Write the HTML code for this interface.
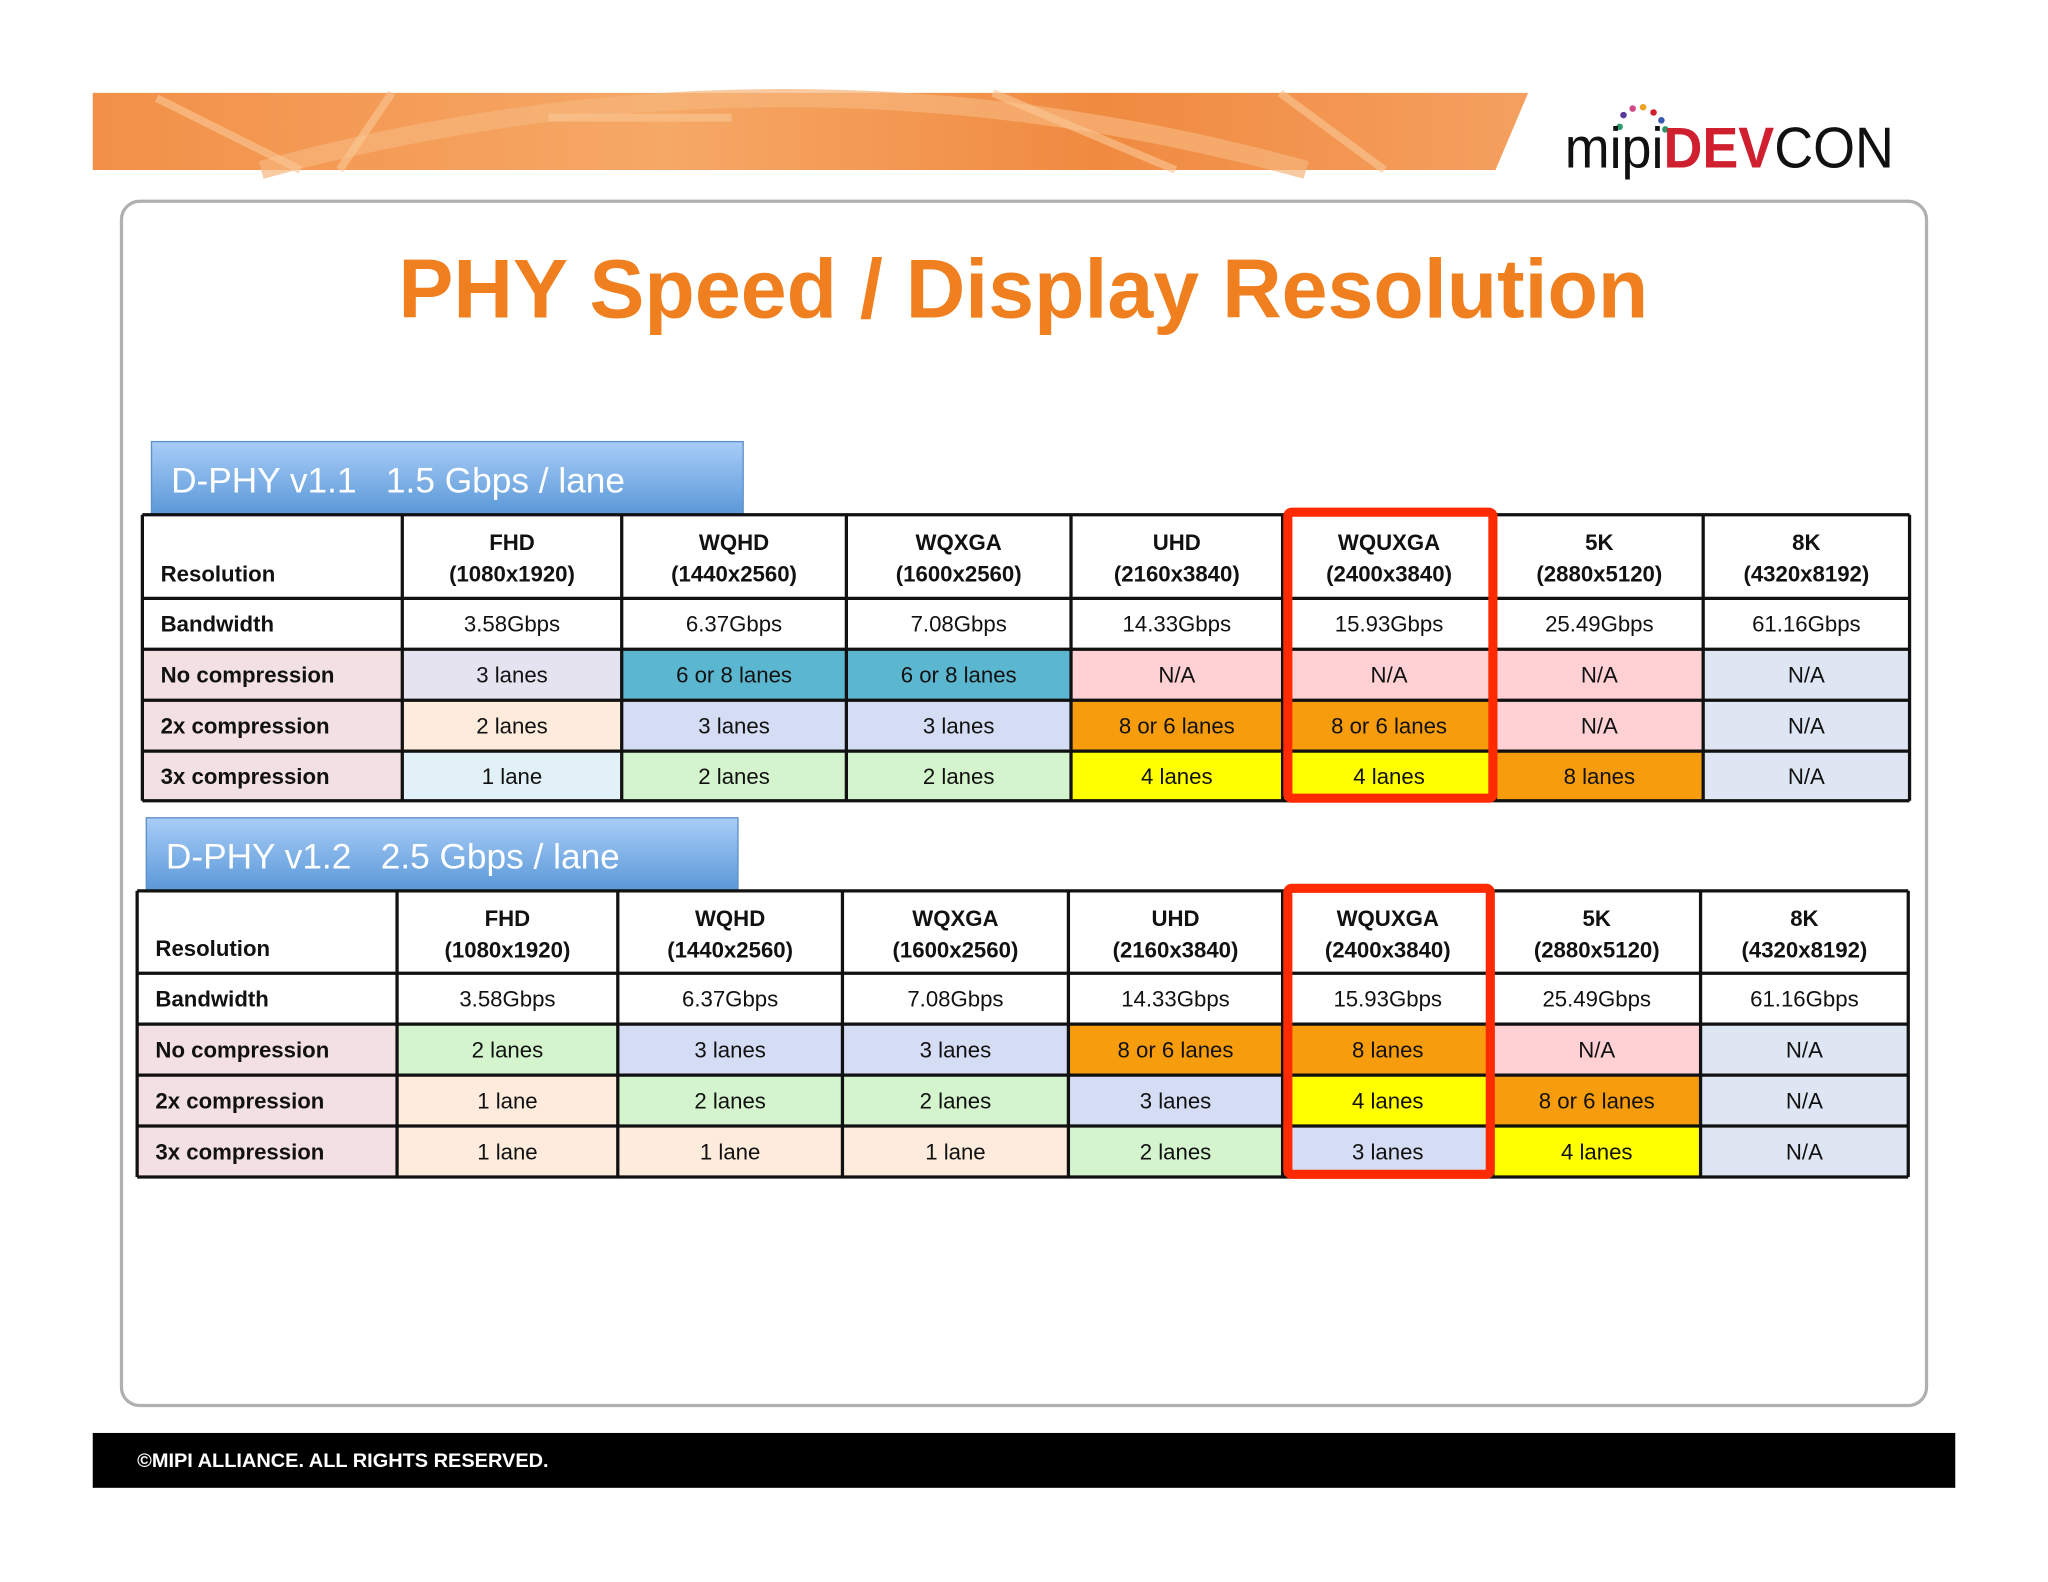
<!DOCTYPE html>
<html><head><meta charset="utf-8"><style>
html,body{margin:0;padding:0;background:#fff;width:2048px;height:1582px;overflow:hidden}
svg{display:block}
text{font-family:"Liberation Sans",sans-serif}
</style></head><body>
<svg id="root" width="2048" height="1582" viewBox="0 0 1568 1211" xmlns="http://www.w3.org/2000/svg">
<defs>
<linearGradient id="ban" x1="0" y1="0" x2="1" y2="0">
<stop offset="0" stop-color="#f29048"/><stop offset="0.4" stop-color="#f6a866"/><stop offset="0.7" stop-color="#f08a40"/><stop offset="1" stop-color="#f5a060"/></linearGradient>
<linearGradient id="hdr" x1="0" y1="0" x2="0" y2="1">
<stop offset="0" stop-color="#a9cdf7"/><stop offset="1" stop-color="#5a98d8"/></linearGradient>
</defs>
<g>
<polygon points="71,71 1170,71 1145,130 71,130" fill="url(#ban)"/>
<path d="M200,130 Q600,20 1000,130" stroke="#f7b57a" stroke-width="14" fill="none" opacity="0.7"/>
<path d="M120,75 L230,130 M300,71 L260,130 M760,71 L900,130 M980,71 L1060,130 M420,90 L560,90" stroke="#fbc896" stroke-width="6" opacity="0.6"/>
</g>
<g>
<circle cx="1240" cy="97" r="2.5" fill="#2a9a6a"/><circle cx="1243" cy="88" r="2.5" fill="#5a3a9a"/><circle cx="1250" cy="83" r="2.5" fill="#d04a8a"/><circle cx="1258" cy="82" r="2.5" fill="#f0a020"/><circle cx="1266" cy="86" r="2.5" fill="#d02030"/><circle cx="1272" cy="92" r="2.5" fill="#3a5ab0"/><circle cx="1275" cy="99" r="2.5" fill="#2a9a6a"/>
<text x="1198" y="128" font-size="44" fill="#111" textLength="252" lengthAdjust="spacingAndGlyphs">mipi<tspan fill="#d0202f" font-weight="bold">DEV</tspan>CON</text>
</g>
<rect x="93" y="154" width="1382" height="922" rx="14" fill="#fff" stroke="#b0b0b0" stroke-width="2.5"/>
<text x="305" y="243" font-size="64" font-weight="bold" fill="#f07f1f" textLength="957" lengthAdjust="spacingAndGlyphs">PHY Speed / Display Resolution</text>
<g id="tables"></g>
<rect x="71" y="1097" width="1426" height="42" fill="#000"/>
<text x="105" y="1123" font-size="14.5" font-weight="bold" fill="#fff" textLength="315" lengthAdjust="spacingAndGlyphs">©MIPI ALLIANCE. ALL RIGHTS RESERVED.</text>
</svg>
<script>
const columns=["FHD","WQHD","WQXGA","UHD","WQUXGA","5K","8K"];
const resolutions=["(1080x1920)","(1440x2560)","(1600x2560)","(2160x3840)","(2400x3840)","(2880x5120)","(4320x8192)"];
const bandwidth=["3.58Gbps","6.37Gbps","7.08Gbps","14.33Gbps","15.93Gbps","25.49Gbps","61.16Gbps"];
const rowLabels=["No compression","2x compression","3x compression"];
const v11Lanes=[["3 lanes","6 or 8 lanes","6 or 8 lanes","N/A","N/A","N/A","N/A"],["2 lanes","3 lanes","3 lanes","8 or 6 lanes","8 or 6 lanes","N/A","N/A"],["1 lane","2 lanes","2 lanes","4 lanes","4 lanes","8 lanes","N/A"]];
const v11Colors=[["#e6e3f0","#5bb6d0","#5bb6d0","#ffd0d4","#ffd0d4","#ffd0d4","#dfe6f3"],["#fdebdc","#d5ddf4","#d5ddf4","#f79c0c","#f79c0c","#ffd0d4","#dfe6f3"],["#e2f0f7","#d3f4cd","#d3f4cd","#ffff00","#ffff00","#f79c0c","#dfe6f3"]];
const v12Lanes=[["2 lanes","3 lanes","3 lanes","8 or 6 lanes","8 lanes","N/A","N/A"],["1 lane","2 lanes","2 lanes","3 lanes","4 lanes","8 or 6 lanes","N/A"],["1 lane","1 lane","1 lane","2 lanes","3 lanes","4 lanes","N/A"]];
const v12Colors=[["#d3f4cd","#d5ddf4","#d5ddf4","#f79c0c","#f79c0c","#ffd0d4","#dfe6f3"],["#fdebdc","#d3f4cd","#d3f4cd","#d5ddf4","#ffff00","#f79c0c","#dfe6f3"],["#fdebdc","#fdebdc","#fdebdc","#d3f4cd","#d5ddf4","#ffff00","#dfe6f3"]];
const NS="http://www.w3.org/2000/svg";
const host=document.getElementById('tables');
function mk(tag,attrs,parent){const e=document.createElementNS(NS,tag);for(const k in attrs)e.setAttribute(k,attrs[k]);parent.appendChild(e);return e;}
function txt(parent,x,y,s,bold,anchor){const t=mk('text',{x:x,y:y,'font-size':17,'text-anchor':anchor,fill:'#111'},parent);if(bold)t.setAttribute('font-weight','bold');t.textContent=s;return t;}
function table(cfg){
  const g=mk('g',{},host);
  
  
  const hb=mk('rect',{x:cfg.hx,y:cfg.rows[0]-56,width:453,height:56,fill:'url(#hdr)',stroke:'#5b8fc8','stroke-width':1},g);
  
  
  const ht=mk('text',{x:cfg.hx+15,y:cfg.rows[0]-17,'font-size':27,fill:'#fff',style:'white-space:pre'},g);
  
  
  ht.textContent=cfg.title;
  const C=cfg.cols,R=cfg.rows;
  for(let r=0;r<3;r++){
    const y0=R[r+2],y1=R[r+3];
    const lc=mk('rect',{x:C[0],y:y0,width:C[1]-C[0],height:y1-y0,fill:'#f3e0e2'},g);
    
    
    for(let c=0;c<7;c++){
      const cell=mk('rect',{x:C[c+1],y:y0,width:C[c+2]-C[c+1],height:y1-y0,fill:cfg.colors[r][c]},g);
      
      
      const t=txt(g,(C[c+1]+C[c+2])/2,(y0+y1)/2+6,cfg.lanes[r][c],false,'middle');
      
      
    }
    const lt=txt(g,C[0]+14,(y0+y1)/2+6,rowLabels[r],true,'start');
    
    
  }
  const rl=txt(g,C[0]+14,R[1]-13,'Resolution',true,'start');
  
  
  const bl=txt(g,C[0]+14,(R[1]+R[2])/2+6,'Bandwidth',true,'start');
  
  
  for(let c=0;c<7;c++){
    const cx=(C[c+1]+C[c+2])/2;
    const h1=txt(g,cx,R[0]+27,columns[c],true,'middle');
    
    
    const h2=txt(g,cx,R[0]+51,resolutions[c],true,'middle');
    
    
    const bw=txt(g,cx,(R[1]+R[2])/2+6,bandwidth[c],false,'middle');
    
    
  }
  for(const y of R)mk('line',{x1:C[0],x2:C[8],y1:y,y2:y,stroke:'#111','stroke-width':2.5},g);
  for(const x of C)mk('line',{x1:x,x2:x,y1:R[0],y2:R[5],stroke:'#111','stroke-width':2.5},g);
  const hl=mk('rect',{x:C[5]+4,y:R[0]-2,width:C[6]-C[5]-6,height:R[5]-R[0],rx:3,fill:'none',stroke:'#ff2a00','stroke-width':7},g);
  
  
}
table({name:'dphy-v11-table',title:'D-PHY v1.1   1.5 Gbps / lane',hx:116,cols:[109,308,476,648,820,982,1145,1304,1462],rows:[394,458,497,536,575,613],lanes:v11Lanes,colors:v11Colors});
table({name:'dphy-v12-table',title:'D-PHY v1.2   2.5 Gbps / lane',hx:112,cols:[105,304,473,645,818,982,1143,1302,1461],rows:[682,745,784,823,862,901],lanes:v12Lanes,colors:v12Colors});
</script>
</body></html>
